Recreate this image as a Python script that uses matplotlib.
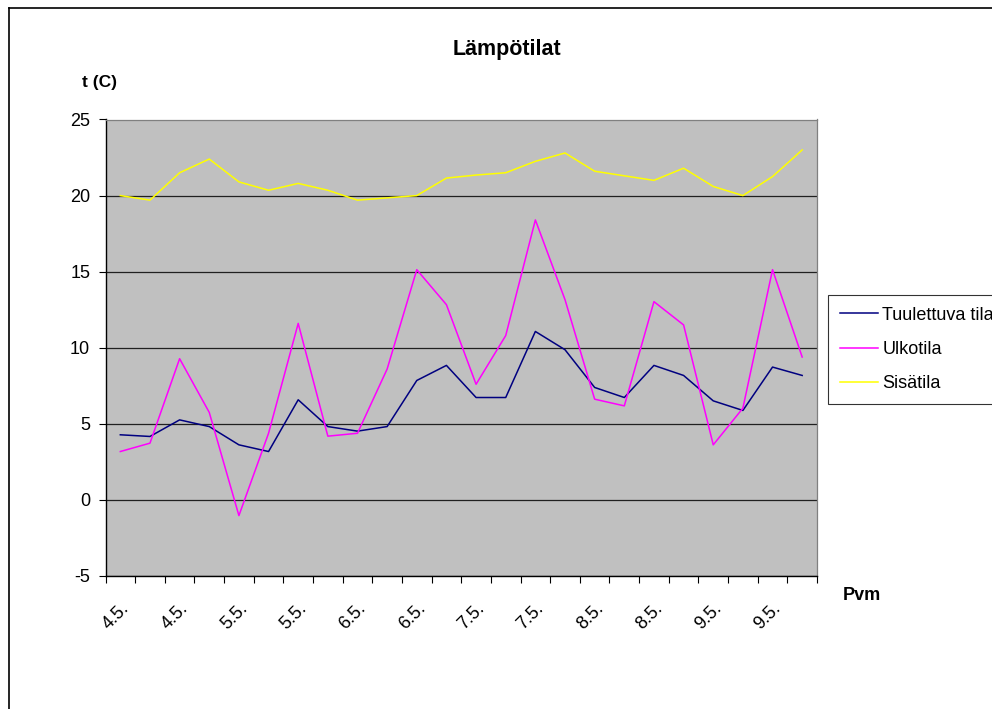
import numpy as np
import matplotlib
matplotlib.use("Agg")
import matplotlib.pyplot as plt
import matplotlib.transforms as mtransforms
from matplotlib.lines import Line2D

plt.rcParams['font.family'] = ['Liberation Sans', 'DejaVu Sans']
plt.rcParams['axes.unicode_minus'] = False

# 4 readings per day, 4.5. - 9.5.
paivat = ['4.5.'] * 4 + ['5.5.'] * 4 + ['6.5.'] * 4 + ['7.5.'] * 4 + ['8.5.'] * 4 + ['9.5.'] * 4

tuulettuva = [4.28, 4.17, 5.26, 4.82, 3.62, 3.18, 6.58, 4.82, 4.52, 4.82, 7.85, 8.84,
              6.73, 6.73, 11.07, 9.87, 7.39, 6.73, 8.84, 8.18, 6.51, 5.88, 8.73, 8.18]
ulko = [3.18, 3.73, 9.28, 5.75, -1.03, 4.38, 11.6, 4.19, 4.38, 8.6, 15.13, 12.83,
        7.6, 10.8, 18.4, 13.16, 6.62, 6.18, 13.03, 11.5, 3.62, 6.03, 15.13, 9.39]
sisa = [20.0, 19.7, 21.5, 22.4, 20.9, 20.35, 20.8, 20.35, 19.7, 19.85, 20.0, 21.15,
        21.35, 21.5, 22.25, 22.8, 21.6, 21.3, 21.0, 21.8, 20.6, 20.0, 21.25, 23.0]

W, H = 992, 709
fig = plt.figure(figsize=(W / 100, H / 100), dpi=100)
ax = fig.add_axes([105.5 / W, 1 - 576 / H, (817 - 105.5) / W, (576 - 119.5) / H])
ax.set_facecolor('#C0C0C0')

x = np.arange(len(paivat))
ax.plot(x, tuulettuva, color='#000080', lw=1.1, label='Tuulettuva tila')
ax.plot(x, ulko, color='#FF00FF', lw=1.1, label='Ulkotila')
ax.plot(x, sisa, color='#FFFF00', lw=1.1, label='Sisätila')

ax.set_xlim(-0.5, len(paivat) - 0.5)
ax.set_ylim(-5, 25)
ax.set_yticks(np.arange(-5, 26, 5))
ax.yaxis.grid(True, color='#202020', lw=0.9)
ax.set_axisbelow(True)

ax.set_xticks(np.arange(-0.5, len(paivat), 1.0), minor=True)
ax.set_xticks(x[::2])
ax.set_xticklabels(paivat[::2], rotation=45, ha='right', va='top', rotation_mode='anchor', fontsize=13)
shift = mtransforms.ScaledTranslation(15 / 100, 0, fig.dpi_scale_trans)
for lab in ax.get_xticklabels():
    lab.set_transform(lab.get_transform() + shift)
ax.tick_params(axis='x', which='major', length=0, pad=17)
ax.tick_params(axis='x', which='minor', length=5, width=0.8, direction='out')
ax.tick_params(axis='y', length=5, width=0.8, direction='out', labelsize=13, pad=6)

for s in ['top', 'right']:
    ax.spines[s].set_color('#808080')
    ax.spines[s].set_linewidth(0.9)
for s in ['left', 'bottom']:
    ax.spines[s].set_color('black')
    ax.spines[s].set_linewidth(1.0)

fig.text(507 / W, 1 - 49 / H, 'Lämpötilat', ha='center', va='center', fontsize=15.5, fontweight='bold')
fig.text(100 / W, 1 - 83 / H, 't (C)', ha='center', va='center', fontsize=12.5, fontweight='bold')
fig.text(862 / W, 1 - 596 / H, 'Pvm', ha='center', va='center', fontsize=13, fontweight='bold')

leg = fig.legend(loc='upper left', bbox_to_anchor=(828 / W, 1 - 295 / H), fontsize=13,
                 frameon=True, fancybox=False, shadow=False, handlelength=2.1,
                 handletextpad=0.25, labelspacing=0.95, borderpad=0.65, borderaxespad=0)
leg.get_frame().set_edgecolor('black')
leg.get_frame().set_linewidth(0.8)

# outer chart frame (only top and left edges are visible)
fig.add_artist(Line2D([9 / W, 9 / W], [0, 1 - 8 / H], color='black', lw=1.2, transform=fig.transFigure))
fig.add_artist(Line2D([9 / W, 1], [1 - 8 / H, 1 - 8 / H], color='black', lw=1.2, transform=fig.transFigure))

fig.savefig('out.png', dpi=100)
